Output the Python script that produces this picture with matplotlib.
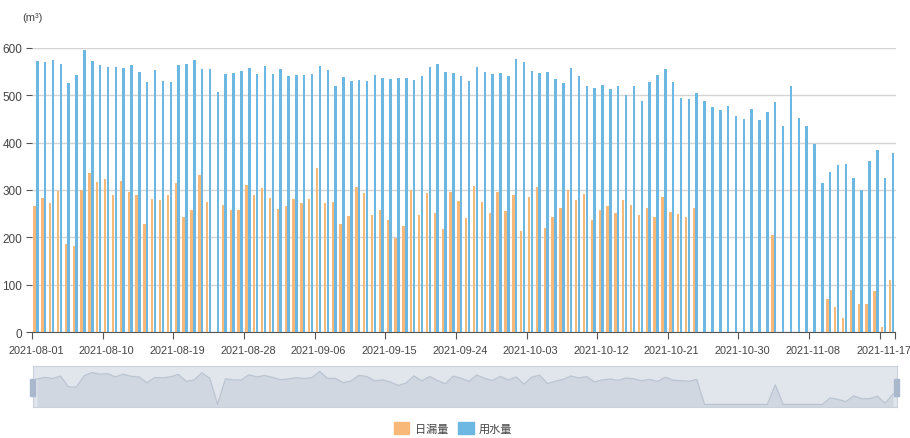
import numpy as np
import matplotlib.pyplot as plt
from matplotlib.patches import Patch, Rectangle
import datetime as dt

# data
start = dt.date(2021, 8, 1)
days = [start + dt.timedelta(days=i) for i in range(110)]
dates = [d.strftime('%Y-%m-%d') for d in days]

water = [573, 570, 574, 567, 526, 544, 595, 573, 565, 560,
         560, 557, 564, 549, 528, 553, 531, 529, 564, 567,
         574, 555, 555, 507, 546, 547, 552, 557, 546, 561,
         546, 555, 541, 543, 543, 545, 561, 553, 519, 539,
         531, 533, 531, 542, 537, 534, 536, 537, 533, 540,
         560, 567, 549, 547, 541, 531, 560, 550, 546, 548,
         541, 576, 570, 552, 548, 550, 534, 526, 558, 541,
         519, 515, 522, 514, 519, 501, 519, 489, 529, 543,
         555, 528, 495, 493, 504, 487, 475, 469, 478, 457,
         451, 472, 448, 465, 485, 436, 519, 453, 435, 398,
         314, 337, 352, 355, 325, 301, 361, 384, 325, 378]

leak = [267, 284, 272, 298, 185, 181, 300, 335, 317, 324,
        289, 318, 295, 289, 228, 282, 279, 290, 315, 242,
        257, 332, 275, 0, 269, 257, 257, 311, 289, 304,
        284, 259, 267, 281, 272, 281, 346, 273, 274, 228,
        246, 306, 293, 248, 257, 236, 199, 224, 299, 248,
        293, 251, 217, 296, 276, 241, 309, 274, 251, 295,
        256, 289, 214, 286, 307, 219, 243, 263, 299, 278,
        292, 236, 258, 267, 252, 278, 269, 248, 263, 242,
        286, 254, 250, 243, 263, 0, 0, 0, 0, 0,
        0, 0, 0, 0, 205, 0, 0, 0, 0, 0,
        0, 69, 52, 30, 89, 60, 60, 86, 11, 109]

orange = '#f8b878'
blue = '#6cb8e2'
txt = '#444444'
lab_font = ['Liberation Sans', 'DejaVu Sans']
cjk_font = ['Noto Sans CJK SC', 'DejaVu Sans']

W, H = 910, 439
fig = plt.figure(figsize=(W / 100, H / 100), dpi=100)

def box(x0, y0, x1, y1):
    return [x0 / W, 1 - y1 / H, (x1 - x0) / W, (y1 - y0) / H]

ax = fig.add_axes(box(32, 49, 895.5, 333))
x = np.arange(len(dates))
ax.bar(x - 0.18, leak, width=0.3, color=orange, zorder=3)
ax.bar(x + 0.18, water, width=0.32, color=blue, zorder=3)

ax.set_xlim(-0.5, len(dates) - 0.5)
ax.set_ylim(0, 600)
ax.set_yticks(range(0, 601, 100))
ax.grid(axis='y', color='#d4d4d4', lw=1, zorder=0)
for s in ['top', 'right', 'left']:
    ax.spines[s].set_visible(False)
ax.spines['bottom'].set_color('#555555')
ax.tick_params(axis='y', length=4, color='#555555', labelcolor=txt, labelsize=8.5, pad=3)
for t in ax.get_yticklabels():
    t.set_family(lab_font)

lab_idx = list(range(0, len(dates), 9))
ax.set_xticks([i - 0.5 for i in lab_idx] + [len(dates) - 0.5])
ax.set_xticklabels([])
ax.set_xticks(lab_idx, minor=True)
ax.set_xticklabels([dates[i] for i in lab_idx], minor=True, family=lab_font,
                   fontsize=7.8, color=txt)
ax.tick_params(axis='x', which='major', length=5, color='#555555')
ax.tick_params(axis='x', which='minor', length=0, pad=9)

fig.text(22 / W, 1 - 18 / H, '(m³)', family=lab_font, fontsize=8, color=txt,
         va='center', ha='left')

# data zoom slider
sl = fig.add_axes(box(33, 367, 897, 408))
sl.set_xlim(-0.5, len(dates) - 0.5)
sl.set_ylim(-27, 404)
sl.set_facecolor('#e1e6ed')
sl.fill_between(x, leak, -27, color='#d0d7e1', lw=0)
sl.plot(x, leak, color='#bcc6d2', lw=1)
sl.set_xticks([])
sl.set_yticks([])
for s in sl.spines.values():
    s.set_color('#c9d1dc')
for hx in [32, 896]:
    fig.patches.append(Rectangle(((hx - 2.5) / W, 1 - 397 / H), 5 / W, 17 / H,
                                 transform=fig.transFigure, color='#a9b8cc'))

handles = [Patch(color=orange, label='日漏量'), Patch(color=blue, label='用水量')]
fig.legend(handles=handles, loc='center', bbox_to_anchor=(453 / W, 1 - 429 / H),
           ncol=2, frameon=False, prop={'family': cjk_font, 'size': 8},
           handlelength=1.4, handleheight=1.3, columnspacing=0.9, handletextpad=0.5,
           labelcolor=txt)

fig.savefig('out.png', dpi=100)
